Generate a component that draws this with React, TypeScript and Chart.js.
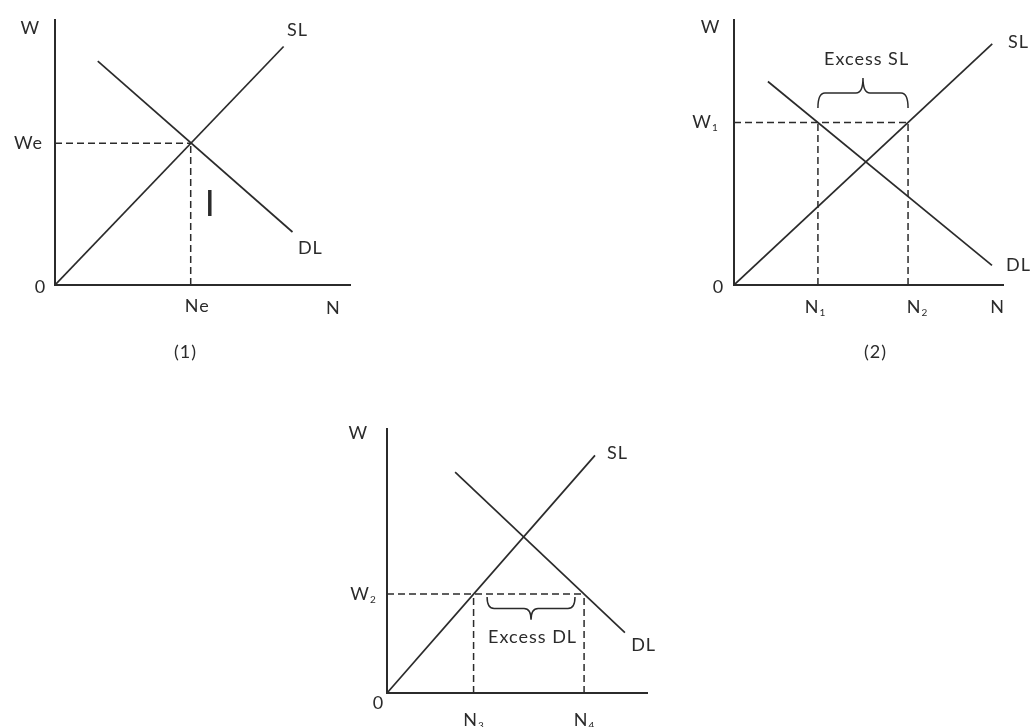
import { useEffect, useRef } from "react";
import { Chart, registerables } from "chart.js";

Chart.register(...registerables);

const INK = "#2b2b2b";
const FONT = "Lato, 'Open Sans', 'DejaVu Sans', sans-serif";

type Pt = { x: number; y: number };
type Txt = { text: string; sub?: string; x: number; y: number; dx?: number; dy?: number; size?: number };
type Brace = { x1: number; x2: number; yEnd: number; yTip: number };

// ---------- Panel (1): equilibrium ----------
const p1Supply: Pt[] = [{ x: 0, y: 0 }, { x: 7.75, y: 9.0 }];
const p1Demand: Pt[] = [{ x: 1.45, y: 8.45 }, { x: 8.05, y: 2.0 }];
const p1Ne = 4.6;
const p1We = 5.35;
const p1Texts: Txt[] = [
  { text: "W", x: -0.85, y: 9.7 },
  { text: "0", x: -0.51, y: -0.08 },
  { text: "We", x: 0, y: p1We, dx: -27 },
  { text: "Ne", x: p1Ne, y: 0, dx: 6, dy: 21 },
  { text: "N", x: 9.42, y: -0.87 },
  { text: "SL", x: 8.2, y: 9.62 },
  { text: "DL", x: 8.64, y: 1.4 },
  { text: "(1)", x: 4.41, y: -2.53 },
  { text: "I", x: 5.25, y: 3.06, size: 36 },
];

// ---------- Panel (2): wage above equilibrium ----------
const p2Supply: Pt[] = [{ x: 0, y: 0 }, { x: 9.6, y: 9.1 }];
const p2Demand: Pt[] = [{ x: 1.26, y: 7.68 }, { x: 9.59, y: 0.74 }];
const p2N1 = 3.12;
const p2N2 = 6.47;
const p2W1 = 6.13;
const p2Texts: Txt[] = [
  { text: "W", x: -0.89, y: 9.74 },
  { text: "0", x: -0.6, y: -0.08 },
  { text: "W", sub: "1", x: 0, y: p2W1, dx: -29 },
  { text: "N", sub: "1", x: p2N1, y: 0, dx: -3, dy: 22 },
  { text: "N", sub: "2", x: p2N2, y: 0, dx: 9, dy: 22 },
  { text: "N", x: 9.78, y: -0.83 },
  { text: "SL", x: 10.56, y: 9.17 },
  { text: "DL", x: 10.56, y: 0.75 },
  { text: "Excess SL", x: 4.91, y: 8.53 },
  { text: "(2)", x: 5.24, y: -2.53 },
];
const p2Braces: Brace[] = [{ x1: p2N1, x2: p2N2, yEnd: 6.68, yTip: 7.81 }];

// ---------- Panel (3): wage below equilibrium ----------
const p3Supply: Pt[] = [{ x: 0, y: 0 }, { x: 8.0, y: 9.0 }];
const p3Demand: Pt[] = [{ x: 2.62, y: 8.37 }, { x: 9.15, y: 2.29 }];
const p3N3 = 3.33;
const p3N4 = 7.58;
const p3W2 = 3.75;
const p3Texts: Txt[] = [
  { text: "W", x: -1.12, y: 9.85 },
  { text: "0", x: -0.35, y: -0.38 },
  { text: "W", sub: "2", x: 0, y: p3W2, dx: -24 },
  { text: "N", sub: "3", x: p3N3, y: 0, dy: 27 },
  { text: "N", sub: "4", x: p3N4, y: 0, dy: 27 },
  { text: "SL", x: 8.85, y: 9.09 },
  { text: "DL", x: 9.85, y: 1.82 },
  { text: "Excess DL", x: 5.58, y: 2.12 },
];
const p3Braces: Brace[] = [{ x1: 3.85, x2: 7.23, yEnd: 3.64, yTip: 2.77 }];

type PanelSpec = {
  left: number;
  top: number;
  width: number;
  height: number;
  pad: { left: number; right: number; top: number; bottom: number };
  lines: Pt[][];
  dashed: Pt[][];
  texts: Txt[];
  braces: Brace[];
};

const panels: PanelSpec[] = [
  {
    left: 0, top: 0, width: 380, height: 380,
    pad: { left: 55, right: 30, top: 20, bottom: 95 },
    lines: [p1Supply, p1Demand],
    dashed: [
      [{ x: 0, y: p1We }, { x: p1Ne, y: p1We }],
      [{ x: p1Ne, y: 0 }, { x: p1Ne, y: p1We }],
    ],
    texts: p1Texts,
    braces: [],
  },
  {
    left: 680, top: 0, width: 355, height: 380,
    pad: { left: 54, right: 32, top: 20, bottom: 95 },
    lines: [p2Supply, p2Demand],
    dashed: [
      [{ x: 0, y: p2W1 }, { x: p2N2, y: p2W1 }],
      [{ x: p2N1, y: 0 }, { x: p2N1, y: p2W1 }],
      [{ x: p2N2, y: 0 }, { x: p2N2, y: p2W1 }],
    ],
    texts: p2Texts,
    braces: p2Braces,
  },
  {
    left: 300, top: 400, width: 380, height: 327,
    pad: { left: 87, right: 33, top: 29, bottom: 34 },
    lines: [p3Supply, p3Demand],
    dashed: [
      [{ x: 0, y: p3W2 }, { x: p3N4, y: p3W2 }],
      [{ x: p3N3, y: 0 }, { x: p3N3, y: p3W2 }],
      [{ x: p3N4, y: 0 }, { x: p3N4, y: p3W2 }],
    ],
    texts: p3Texts,
    braces: p3Braces,
  },
];

function Panel({ spec }: { spec: PanelSpec }) {
  const ref = useRef<HTMLCanvasElement | null>(null);
  useEffect(() => {
    if (!ref.current) return;
    const annotate = {
      id: "annotate",
      afterDraw(chart: any) {
        const { ctx } = chart;
        const xs = chart.scales.x;
        const ys = chart.scales.y;
        ctx.save();
        ctx.fillStyle = INK;
        ctx.strokeStyle = INK;
        ctx.lineWidth = 1.5;
        for (const b of spec.braces) {
          const x1 = xs.getPixelForValue(b.x1);
          const x2 = xs.getPixelForValue(b.x2);
          const yE = ys.getPixelForValue(b.yEnd);
          const yT = ys.getPixelForValue(b.yTip);
          const yM = yE + (yT - yE) * 0.5;
          const mid = (x1 + x2) / 2;
          const q = 7;
          ctx.beginPath();
          ctx.moveTo(x1, yE);
          ctx.quadraticCurveTo(x1, yM, x1 + q, yM);
          ctx.lineTo(mid - q, yM);
          ctx.quadraticCurveTo(mid, yM, mid, yT);
          ctx.quadraticCurveTo(mid, yM, mid + q, yM);
          ctx.lineTo(x2 - q, yM);
          ctx.quadraticCurveTo(x2, yM, x2, yE);
          ctx.stroke();
        }
        ctx.textBaseline = "middle";
        ctx.textAlign = "left";
        for (const t of spec.texts) {
          const size = t.size ?? 18;
          const spacing = t.size ? 0 : 1;
          const subSize = Math.round(size * 0.55);
          const mainFont = `${size}px ${FONT}`;
          const subFont = `${subSize}px ${FONT}`;
          ctx.letterSpacing = `${spacing}px`;
          ctx.font = mainFont;
          const wMain = ctx.measureText(t.text).width;
          let wSub = 0;
          if (t.sub) {
            ctx.font = subFont;
            wSub = ctx.measureText(t.sub).width;
          }
          const cx = xs.getPixelForValue(t.x) + (t.dx ?? 0);
          const cy = ys.getPixelForValue(t.y) + (t.dy ?? 0);
          const start = cx - (wMain + wSub - spacing) / 2;
          ctx.font = mainFont;
          ctx.fillText(t.text, start, cy);
          if (t.sub) {
            ctx.font = subFont;
            ctx.fillText(t.sub, start + wMain, cy + size * 0.3);
          }
        }
        ctx.restore();
      },
    };

    const datasets: any[] = [];
    spec.lines.forEach((pts, i) => {
      datasets.push({
        label: `curve${i}`,
        data: pts,
        showLine: true,
        borderColor: INK,
        borderWidth: 1.7,
        pointRadius: 0,
        fill: false,
      });
    });
    spec.dashed.forEach((pts, i) => {
      datasets.push({
        label: `guide${i}`,
        data: pts,
        showLine: true,
        borderColor: INK,
        borderWidth: 1.5,
        borderDash: [7, 4],
        pointRadius: 0,
        fill: false,
      });
    });

    const axis = (pos: string) => ({
      type: "linear" as const,
      position: pos,
      min: 0,
      max: 10,
      grid: { display: false, drawTicks: false },
      border: { display: true, color: INK, width: 2 },
      ticks: { display: false },
    });

    const chart = new Chart(ref.current, {
      type: "scatter",
      data: { datasets },
      options: {
        animation: false,
        responsive: false,
        maintainAspectRatio: false,
        events: [],
        layout: { padding: spec.pad },
        plugins: { legend: { display: false }, tooltip: { enabled: false } },
        scales: { x: axis("bottom") as any, y: axis("left") as any },
      },
      plugins: [annotate],
    });
    return () => chart.destroy();
  }, [spec]);

  return (
    <canvas
      ref={ref}
      width={spec.width}
      height={spec.height}
      style={{ position: "absolute", left: spec.left, top: spec.top, width: spec.width, height: spec.height }}
    />
  );
}

export default function App() {
  return (
    <div style={{ position: "fixed", left: 0, top: 0, width: 1035, height: 727, background: "#ffffff", overflow: "hidden" }}>
      {panels.map((p, i) => (
        <Panel key={i} spec={p} />
      ))}
    </div>
  );
}
